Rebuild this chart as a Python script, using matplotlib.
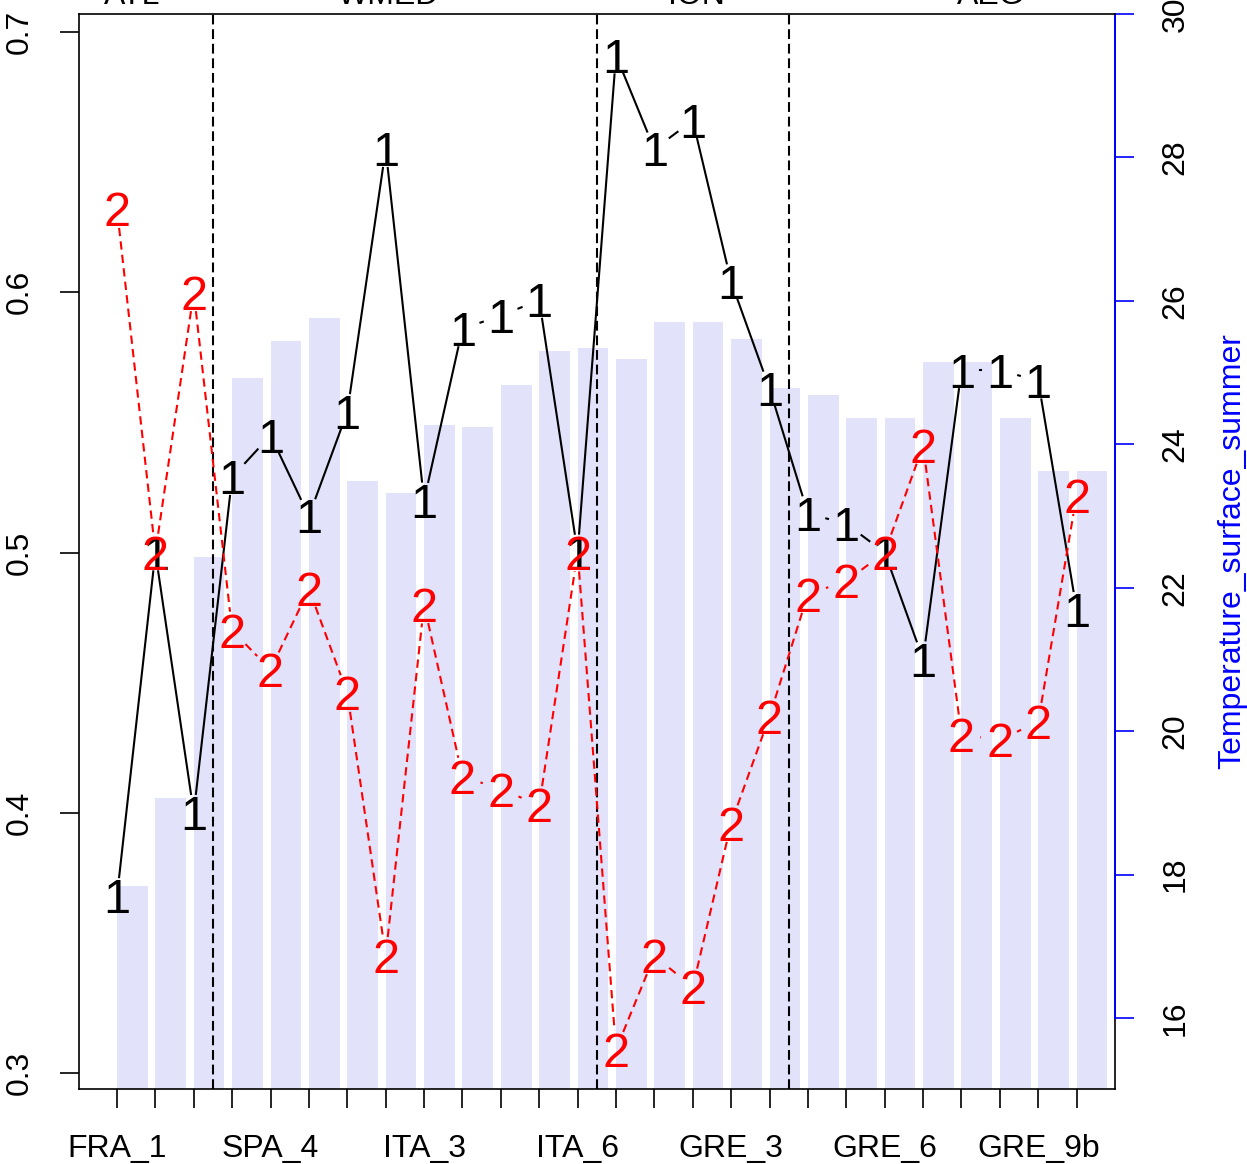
import matplotlib.pyplot as plt
import numpy as np

plt.rcParams['font.family'] = ['Liberation Sans', 'DejaVu Sans']

# site labels (only every 4th shown on the axis)
site_labels = ['FRA_1', '', '', '', 'SPA_4', '', '', '', 'ITA_3', '', '', '', 'ITA_6',
               '', '', '', 'GRE_3', '', '', '', 'GRE_6', '', '', '', 'GRE_9b', '']
temperature = [17.84, 19.07, 22.43, 24.93, 25.44, 25.76, 23.49, 23.32, 24.27, 24.24,
               24.83, 25.30, 25.34, 25.19, 25.71, 25.71, 25.47, 24.79, 24.69, 24.37,
               24.37, 25.15, 25.15, 24.37, 23.63, 23.63]
cluster1 = [0.368, 0.500, 0.400, 0.529, 0.545, 0.514, 0.554, 0.655, 0.520, 0.586,
            0.591, 0.597, 0.500, 0.691, 0.655, 0.666, 0.604, 0.563, 0.515, 0.511,
            0.500, 0.459, 0.570, 0.570, 0.566, 0.478]
cluster2 = [0.632, 0.500, 0.600, 0.470, 0.455, 0.486, 0.446, 0.345, 0.480, 0.414,
            0.409, 0.403, 0.500, 0.309, 0.345, 0.333, 0.396, 0.437, 0.484, 0.489,
            0.500, 0.541, 0.430, 0.428, 0.435, 0.522]
regions = ['ATL', 'WMED', 'ION', 'AEG']
region_x = [1.39, 8.08, 16.1, 23.76]
region_breaks = [3.5, 13.5, 18.5]

W, H = 1247, 1164
fig = plt.figure(figsize=(W / 100, H / 100), dpi=100)
ax = fig.add_axes([79 / W, 75 / H, 1036 / W, 1075 / H])
ax2 = ax.twinx()
ax.set_zorder(2)
ax.patch.set_visible(False)

x = np.arange(1, len(temperature) + 1)

# bars on right axis
ax2.bar(x, temperature, width=0.8, align='edge', color='#E2E2FB', zorder=1)
ax2.set_ylim(15.01, 30)
ax2.set_yticks([16, 18, 20, 22, 24, 26, 28, 30])
ax2.tick_params(axis='y', colors='blue', labelcolor='black', length=13.7, width=1.2,
                labelsize=23, labelrotation=90, pad=19)
for lab in ax2.get_yticklabels():
    lab.set_va('center')
for s in ['top', 'left', 'bottom']:
    ax2.spines[s].set_visible(False)
ax2.spines['right'].set_color('black')
ax2.spines['right'].set_linewidth(1.2)
ax2.plot([1, 1], [16, 30], color='blue', lw=1.4, transform=ax2.get_yaxis_transform(),
         clip_on=False, zorder=3)

ax.set_xlim(0.01, 27.0)
ax.set_ylim(0.29385, 0.70692)
ax.spines['right'].set_visible(False)
for s in ['top', 'left', 'bottom']:
    ax.spines[s].set_linewidth(1.2)
ax.set_xticks(x)
ax.set_xticklabels(site_labels)
ax.tick_params(axis='x', length=13.7, width=1.2, labelsize=23, pad=19)
ax.set_yticks([0.3, 0.4, 0.5, 0.6, 0.7])
ax.tick_params(axis='y', length=13.7, width=1.2, labelsize=23, labelrotation=90, pad=18)
for lab in ax.get_yticklabels():
    lab.set_va('center')

for b in region_breaks:
    ax.axvline(b, color='black', ls=(0, (4.7, 2.3)), lw=1.5, zorder=1)

for name, rx in zip(regions, region_x):
    ax.text(rx, 1 + 10 / 1075, name, transform=ax.get_xaxis_transform(), ha='center',
            va='baseline', fontsize=23, clip_on=False)


# R-style type="b": lines broken around the plotted characters
def draw_b(xs, ys, ch, color, ls, gap=19):
    pts = ax.transData.transform(np.column_stack([xs, ys]))
    inv = ax.transData.inverted()
    for p0, p1 in zip(pts[:-1], pts[1:]):
        d = p1 - p0
        L = np.hypot(*d)
        if L <= 2 * gap:
            continue
        u = d / L
        a = inv.transform(p0 + u * gap)
        b = inv.transform(p1 - u * gap)
        ax.plot([a[0], b[0]], [a[1], b[1]], color=color, ls=ls, lw=1.5, zorder=3)
    for xi, yi in zip(xs, ys):
        ax.annotate(ch, (xi, yi), xytext=(0, -12.5), textcoords='offset points',
                    ha='center', va='baseline', fontsize=35, color=color, zorder=4)


draw_b(x, cluster1, '1', 'black', '-')
draw_b(x, cluster2, '2', 'red', (0, (4, 2.5)))

fig.text(1232 / W, 1 - 551 / H, 'Temperature_surface_summer', rotation=90, color='blue',
         fontsize=23, ha='center', va='center')

fig.savefig('out.png', dpi=100)
